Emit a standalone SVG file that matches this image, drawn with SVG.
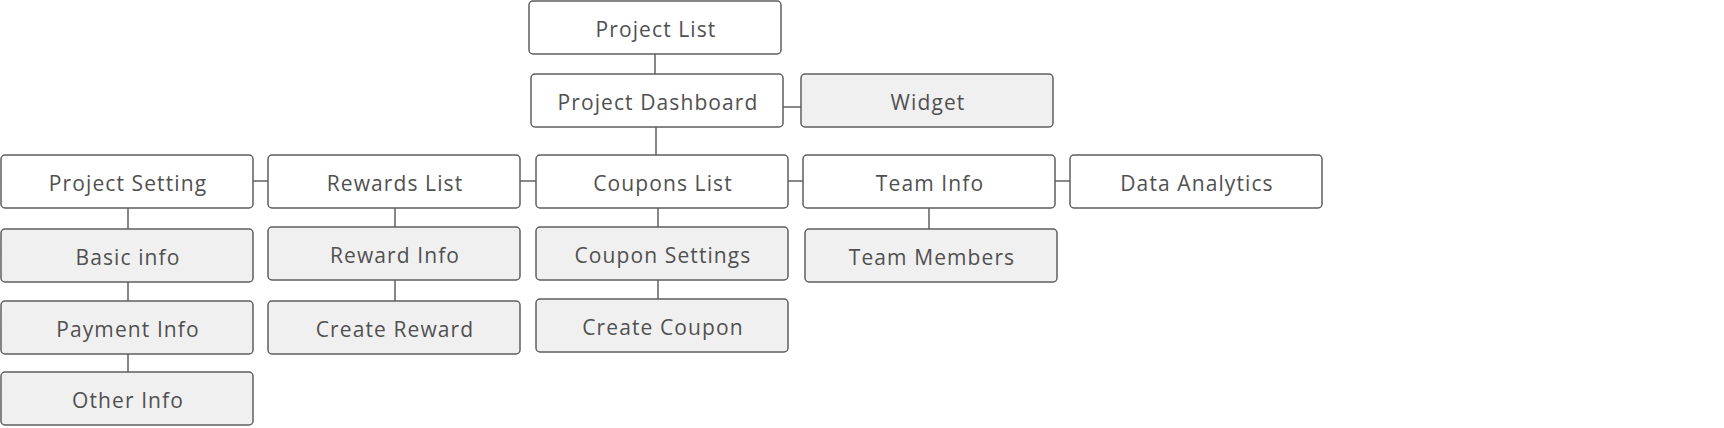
<svg xmlns="http://www.w3.org/2000/svg" width="1724" height="428" viewBox="0 0 1724 428">
<style>
.box rect{stroke:#5f5f5f;stroke-width:1.5;fill:#ffffff}
.box.sub rect{fill:#f0f0f0}
.box text{font-family:"Open Sans","Liberation Sans",sans-serif;font-size:21px;letter-spacing:1.1px;fill:#505050;text-anchor:middle;dominant-baseline:central}
#connectors line{stroke:#5f5f5f;stroke-width:1.5}
</style>
<rect width="1724" height="428" fill="#ffffff"/>
<g id="connectors">
<line x1="655" y1="54" x2="655" y2="74"/>
<line x1="783" y1="107" x2="801" y2="107"/>
<line x1="656" y1="127" x2="656" y2="155"/>
<line x1="253" y1="181" x2="268" y2="181"/>
<line x1="520" y1="181" x2="536" y2="181"/>
<line x1="788" y1="181" x2="803" y2="181"/>
<line x1="1055" y1="181" x2="1070" y2="181"/>
<line x1="128" y1="208" x2="128" y2="229"/>
<line x1="128" y1="282" x2="128" y2="301"/>
<line x1="128" y1="354" x2="128" y2="372"/>
<line x1="395" y1="208" x2="395" y2="227"/>
<line x1="395" y1="280" x2="395" y2="301"/>
<line x1="658" y1="208" x2="658" y2="227"/>
<line x1="658" y1="280" x2="658" y2="299"/>
<line x1="929" y1="208" x2="929" y2="229"/>
</g>
<g id="project-list" class="box"><rect x="529" y="1" width="252" height="53" rx="4"/><text x="656" y="28.5">Project List</text></g>
<g id="project-dashboard" class="box"><rect x="531" y="74" width="252" height="53" rx="4"/><text x="658" y="101.5">Project Dashboard</text></g>
<g id="widget" class="box sub"><rect x="801" y="74" width="252" height="53" rx="4"/><text x="928" y="101.5">Widget</text></g>
<g id="project-setting" class="box"><rect x="1" y="155" width="252" height="53" rx="4"/><text x="128" y="182.5">Project Setting</text></g>
<g id="rewards-list" class="box"><rect x="268" y="155" width="252" height="53" rx="4"/><text x="395" y="182.5">Rewards List</text></g>
<g id="coupons-list" class="box"><rect x="536" y="155" width="252" height="53" rx="4"/><text x="663" y="182.5">Coupons List</text></g>
<g id="team-info" class="box"><rect x="803" y="155" width="252" height="53" rx="4"/><text x="930" y="182.5">Team Info</text></g>
<g id="data-analytics" class="box"><rect x="1070" y="155" width="252" height="53" rx="4"/><text x="1197" y="182.5">Data Analytics</text></g>
<g id="basic-info" class="box sub"><rect x="1" y="229" width="252" height="53" rx="4"/><text x="128" y="256.5">Basic info</text></g>
<g id="reward-info" class="box sub"><rect x="268" y="227" width="252" height="53" rx="4"/><text x="395" y="254.5">Reward Info</text></g>
<g id="coupon-settings" class="box sub"><rect x="536" y="227" width="252" height="53" rx="4"/><text x="663" y="254.5">Coupon Settings</text></g>
<g id="team-members" class="box sub"><rect x="805" y="229" width="252" height="53" rx="4"/><text x="932" y="256.5">Team Members</text></g>
<g id="payment-info" class="box sub"><rect x="1" y="301" width="252" height="53" rx="4"/><text x="128" y="328.5">Payment Info</text></g>
<g id="create-reward" class="box sub"><rect x="268" y="301" width="252" height="53" rx="4"/><text x="395" y="328.5">Create Reward</text></g>
<g id="create-coupon" class="box sub"><rect x="536" y="299" width="252" height="53" rx="4"/><text x="663" y="326.5">Create Coupon</text></g>
<g id="other-info" class="box sub"><rect x="1" y="372" width="252" height="53" rx="4"/><text x="128" y="399.5">Other Info</text></g>
</svg>
